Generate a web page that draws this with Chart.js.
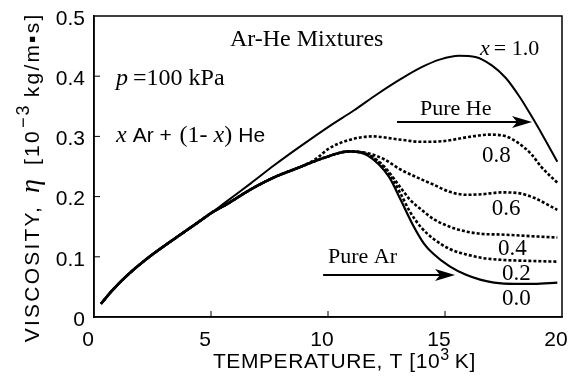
<!DOCTYPE html>
<html><head><meta charset="utf-8">
<script src="https://cdn.jsdelivr.net/npm/chart.js@4/dist/chart.umd.min.js"></script>
<style>html,body{margin:0;padding:0;background:#fff}#c{display:block}</style>
</head><body><canvas id="c" width="570" height="381"></canvas>
<script>
// ---- data (T in 10^3 K, viscosity in 10^-3 kg/m·s) ----
const T_bundle   = [0.3,0.8,1.5,2.3,3.0,3.7,4.4,5.1,5.7,6.7,7.7,8.8,9.8,10.9];
const eta_bundle = [0.022,0.045,0.072,0.098,0.118,0.137,0.156,0.175,0.188,0.212,0.232,0.249,0.264,0.275];

const T_x10   = [0.3,0.8,1.5,2.3,3.0,3.7,4.4,5.1,5.6,6.7,7.7,8.8,10.1,11.1,12.1,13.1,14.0,14.8,15.6,16.3,17.0,17.6,18.2,18.6,19.2,19.8];
const eta_x10 = [0.022,0.045,0.072,0.098,0.118,0.137,0.156,0.175,0.19,0.222,0.252,0.283,0.318,0.343,0.370,0.395,0.415,0.428,0.434,0.432,0.418,0.397,0.365,0.340,0.300,0.258];

const T_x08tail   = [9.5,10.0,10.9,11.9,13.0,14.0,14.9,16.0,16.9,17.6,18.1,18.7,19.1,19.8];
const eta_x08tail = [0.263,0.279,0.294,0.300,0.295,0.291,0.292,0.299,0.303,0.300,0.290,0.270,0.250,0.223];

const T_x06tail   = [11.7,12.4,13.1,13.8,14.5,15.2,15.9,16.6,17.4,18.1,18.8,19.8];
const eta_x06tail = [0.272,0.262,0.245,0.232,0.220,0.208,0.203,0.204,0.207,0.206,0.198,0.178];

const T_x04tail   = [11.7,12.4,13.1,13.5,14.0,14.5,15.2,15.9,16.6,17.4,18.8,19.8];
const eta_x04tail = [0.270,0.250,0.215,0.195,0.178,0.163,0.150,0.142,0.138,0.137,0.134,0.132];

const T_x02tail   = [11.7,12.6,13.1,13.5,14.0,14.5,15.2,15.9,16.6,17.4,18.8,19.8];
const eta_x02tail = [0.270,0.238,0.205,0.175,0.148,0.130,0.113,0.104,0.098,0.095,0.093,0.092];

const T_x00tail   = [11.7,12.6,13.1,13.6,14.1,14.5,15.2,15.9,16.5,17.1,18.0,18.8,19.8];
const eta_x00tail = [0.268,0.233,0.195,0.155,0.122,0.105,0.084,0.070,0.062,0.057,0.055,0.055,0.057];

const xTicks = [0,5,10,15,20];
const yTicks = [0,0.1,0.2,0.3,0.4,0.5];

// ---- build point lists ----
function pts(T, E){ return T.map((t,i)=>({x:t,y:E[i]})); }
function withBundle(upTo, Ttail, Etail){
  const T=[],E=[];
  T_bundle.forEach((t,i)=>{ if(t<=upTo){T.push(t);E.push(eta_bundle[i]);} });
  return pts(T.concat(Ttail), E.concat(Etail));
}

const SANS = '"Liberation Sans", Arial, sans-serif';
const SERIF = '"Liberation Serif", "Times New Roman", serif';

function ds(label, data, dashed, width, offset){
  return {label, data, borderColor:'#000', backgroundColor:'#000',
    borderWidth: width, borderDash: dashed ? [3,2] : [], borderDashOffset: offset||0, pointRadius:0,
    cubicInterpolationMode:'monotone', fill:false};
}

const datasets = [
  ds('x=0.8', withBundle(8.8, T_x08tail, eta_x08tail), true, 2.6, 0),
  ds('x=0.6', withBundle(10.9, T_x06tail, eta_x06tail), true, 2.6, 1),
  ds('x=0.4', withBundle(10.9, T_x04tail, eta_x04tail), true, 2.6, 2),
  ds('x=0.2', withBundle(10.9, T_x02tail, eta_x02tail), true, 2.6, 3),
  ds('x=0.0', withBundle(10.9, T_x00tail, eta_x00tail), false, 2.2),
  ds('x=1.0', pts(T_x10, eta_x10), false, 2),
];

// ---- annotation helpers ----
function drawRich(ctx, x, y, parts){
  let cx = x;
  parts.forEach(p=>{
    ctx.font = p.font;
    ctx.fillText(p.t, cx, y + (p.dy||0));
    cx += ctx.measureText(p.t).width + (p.gap||0);
  });
  return cx - x;
}
function measureRich(ctx, parts){
  let w=0; parts.forEach(p=>{ctx.font=p.font; w+=ctx.measureText(p.t).width+(p.gap||0);}); return w;
}
function arrow(ctx, x1, x2, y){
  ctx.save();
  ctx.strokeStyle='#000'; ctx.fillStyle='#000'; ctx.lineWidth=2;
  ctx.beginPath(); ctx.moveTo(x1,y); ctx.lineTo(x2-14,y); ctx.stroke();
  ctx.beginPath(); ctx.moveTo(x2,y); ctx.lineTo(x2-20,y-6); ctx.lineTo(x2-15,y); ctx.lineTo(x2-20,y+6); ctx.closePath(); ctx.fill();
  ctx.restore();
}

const decor = {
  id:'decor',
  afterDatasetsDraw(chart){
    const {ctx, chartArea:a, scales:{x, y}} = chart;
    const X = v=>x.getPixelForValue(v), Y = v=>y.getPixelForValue(v);
    ctx.save();
    // frame
    ctx.strokeStyle='#000'; ctx.lineWidth=1.5;
    ctx.strokeRect(a.left, a.top, a.right-a.left, a.bottom-a.top);
    // inward ticks
    ctx.lineWidth=1;
    y.ticks.forEach(t=>{ if(t.value>0 && t.value<0.5){ const py=Y(t.value); ctx.beginPath(); ctx.moveTo(a.left,py); ctx.lineTo(a.left+6,py); ctx.stroke(); }});
    x.ticks.forEach(t=>{ if(t.value>0 && t.value<20){ const px=X(t.value); ctx.beginPath(); ctx.moveTo(px,a.bottom); ctx.lineTo(px,a.bottom-6); ctx.stroke(); }});

    ctx.fillStyle='#000'; ctx.textBaseline='alphabetic'; ctx.textAlign='left';
    // annotations (positioned in data coordinates)
    ctx.font = '24px '+SERIF; ctx.fillText('Ar-He Mixtures', X(5.81), Y(0.450));
    drawRich(ctx, X(16.5), Y(0.435), [
      {t:'x', font:'italic 22px '+SERIF, gap:4},
      {t:'= 1.0', font:'22px '+SERIF}]);
    drawRich(ctx, X(0.94), Y(0.385), [
      {t:'p', font:'italic 24px '+SERIF, gap:5},
      {t:'=100 kPa', font:'24px '+SERIF}]);
    drawRich(ctx, X(0.94), Y(0.291), [
      {t:'x', font:'italic 24px '+SERIF, gap:6},
      {t:'Ar + ', font:'21px '+SANS, gap:2},
      {t:'(1- ', font:'24px '+SERIF},
      {t:'x', font:'italic 24px '+SERIF},
      {t:')', font:'24px '+SERIF, gap:6},
      {t:'He', font:'21px '+SANS}]);
    ctx.font='22px '+SERIF;
    ctx.fillText('Pure He', X(13.93), Y(0.3355));
    arrow(ctx, X(12.95), X(18.72), Y(0.324));
    ctx.fillText('Pure Ar', X(10.0), Y(0.0897));
    arrow(ctx, X(9.79), X(15.43), Y(0.0698));
    ctx.font='23px '+SERIF;
    ctx.fillText('0.8', X(16.58), Y(0.2575));
    ctx.fillText('0.6', X(17.0), Y(0.1694));
    ctx.fillText('0.4', X(17.26), Y(0.103));
    ctx.fillText('0.2', X(17.44), Y(0.0615));
    ctx.fillText('0.0', X(17.44), Y(0.020));

    // x axis title
    const xParts = [
      {t:'TEMPERATURE, T [10', font:'21px '+SANS},
      {t:'3', font:'16px '+SANS, dy:-8, gap:5},
      {t:'K]', font:'21px '+SANS}];
    ctx.letterSpacing='0.6px';
    const wx = measureRich(ctx, xParts);
    drawRich(ctx, X(10.7)-wx/2, a.bottom+51, xParts);

    // y axis title (rotated)
    const yParts = [
      {t:'VISCOSITY,', font:'21px '+SANS, gap:12},
      {t:'η', font:'italic 28px '+SERIF, gap:12},
      {t:'[10', font:'21px '+SANS, gap:1},
      {t:'−3', font:'18px '+SANS, dy:-10, gap:6},
      {t:'kg/m▪s]', font:'21px '+SANS}];
    ctx.letterSpacing='2.2px';
    const wy = measureRich(ctx, yParts);
    ctx.translate(a.left-55, Y(0.232));
    ctx.rotate(-Math.PI/2);
    drawRich(ctx, -wy/2, 0, yParts);
    ctx.restore();
  }
};

new Chart(document.getElementById('c'), {
  type:'line',
  data:{datasets},
  options:{
    responsive:false, animation:false, devicePixelRatio:1,
    layout:{padding:{top:16, right:8, left:0, bottom:0}},
    plugins:{legend:{display:false}, tooltip:{enabled:false}},
    scales:{
      x:{type:'linear', min:0, max:20,
        afterBuildTicks(s){ s.ticks = xTicks.map(v=>({value:v})); },
        afterFit(s){ s.height = 64; s.paddingLeft = 0; s.paddingRight = 0; },
        grid:{display:false, drawTicks:false},
        border:{display:true, color:'#000', width:1.5},
        ticks:{color:'#000', font:{family:SANS, size:21}, padding:11, labelOffset:-6, maxRotation:0,
          callback:v=>String(v)}},
      y:{min:0, max:0.5,
        afterBuildTicks(s){ s.ticks = yTicks.map(v=>({value:v})); },
        afterFit(s){ s.width = 94; s.paddingTop = 0; s.paddingBottom = 0; },
        grid:{display:false, drawTicks:false},
        border:{display:true, color:'#000', width:1.5},
        ticks:{color:'#000', font:{family:SANS, size:21}, padding:9, labelOffset:3,
          callback:v=> v===0 ? '0' : v.toFixed(1)}}
    }
  },
  plugins:[decor]
});
</script>
</body></html>
